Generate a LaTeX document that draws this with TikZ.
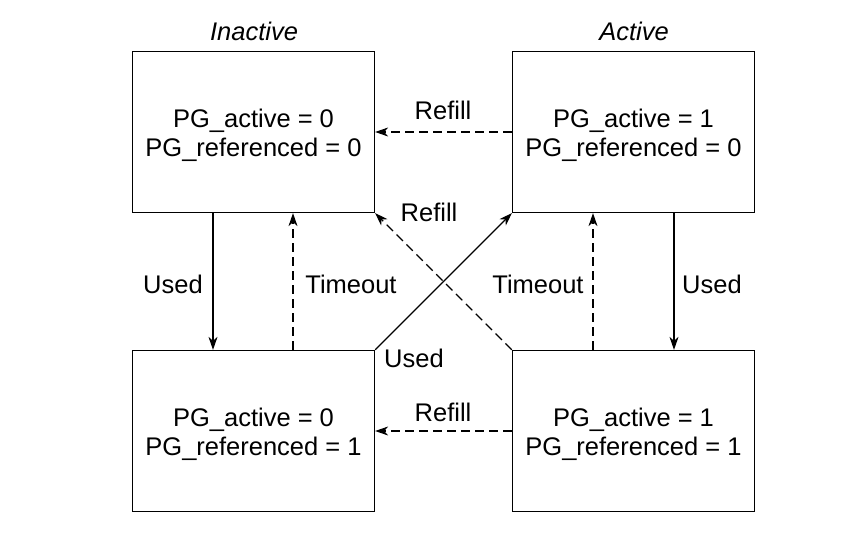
\documentclass[tikz,border=0pt]{standalone}
\usepackage{fontspec}
\setmainfont{Liberation Sans}
\usetikzlibrary{arrows.meta}
\begin{document}
\begin{tikzpicture}[x=1pt,y=-1pt,
  statebox/.style={draw, line width=1.3pt, minimum width=242pt, minimum height=161pt, inner sep=0pt},
  boxtext/.style={align=center, inner sep=0pt, font=\fontsize{25.5}{29}\selectfont},
  lbl/.style={font=\fontsize{25.5}{29}\selectfont, inner sep=0pt},
  conn/.style={line width=1.1pt, -{Stealth[length=13pt,width=9pt,inset=4pt]}},
  dsh/.style={dash pattern=on 9pt off 5pt}]
\useasboundingbox (0,0) rectangle (867,543);
\node[statebox] (tl) at (253.5,132) {};
\node[statebox] (tr) at (633.5,132) {};
\node[statebox] (bl) at (253.5,431) {};
\node[statebox] (br) at (633.5,431) {};
\node[boxtext] (tlt) at ([yshift=-3.5pt]tl.center) {PG\_active = 0\\PG\_referenced = 0};
\node[boxtext] (trt) at ([yshift=-3.5pt]tr.center) {PG\_active = 1\\PG\_referenced = 0};
\node[boxtext] (blt) at ([yshift=-3.5pt]bl.center) {PG\_active = 0\\PG\_referenced = 1};
\node[boxtext] (brt) at ([yshift=-3.5pt]br.center) {PG\_active = 1\\PG\_referenced = 1};
\node[lbl, font=\fontsize{25.5}{29}\selectfont\itshape] (inact) at (254,31) {Inactive};
\node[lbl, font=\fontsize{25.5}{29}\selectfont\itshape] (act) at (634,31) {Active};
% vertical
\draw[conn] (tl.south -| 213,0) -- (bl.north -| 213,0);
\draw[conn,dsh] (bl.north -| 293,0) -- (tl.south -| 293,0);
\draw[conn,dsh] (br.north -| 593,0) -- (tr.south -| 593,0);
\draw[conn] (tr.south -| 674,0) -- (br.north -| 674,0);
% horizontal
\draw[conn,dsh] (tr.west) -- (tl.east);
\draw[conn,dsh] (br.west) -- (bl.east);
% diagonals
\draw[conn] (bl.north east) -- (tr.south west);
\draw[conn,dsh] (br.north west) -- (tl.south east);
% labels
\node[lbl] (l1) at (173,284) {Used};
\node[lbl] (l2) at (351,284) {Timeout};
\node[lbl] (l3) at (538,284) {Timeout};
\node[lbl] (l4) at (712,284) {Used};
\node[lbl] (l5) at (443,110) {Refill};
\node[lbl] (l6) at (429,212) {Refill};
\node[lbl] (l7) at (414,358) {Used};
\node[lbl] (l8) at (443,412) {Refill};
\end{tikzpicture}
\end{document}
